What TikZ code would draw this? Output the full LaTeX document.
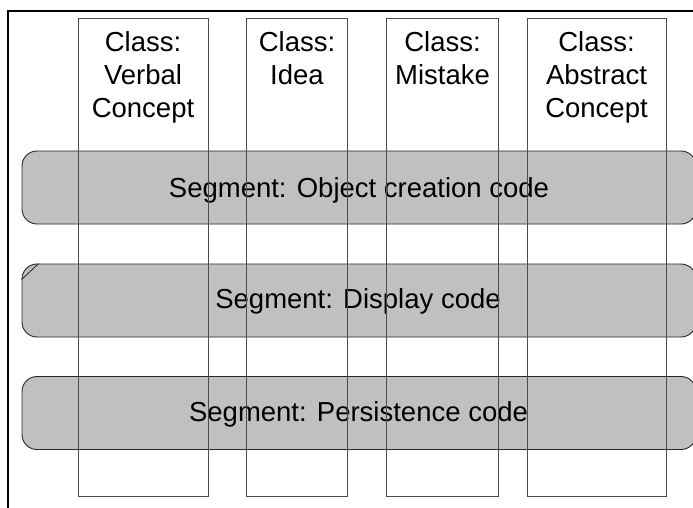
\documentclass[tikz,border=0pt]{standalone}
\usepackage{fontspec}
\setmainfont{Liberation Sans}
\definecolor{segfill}{HTML}{C0C0C0}
\begin{document}
\begin{tikzpicture}[x=1pt,y=-1pt,
  segbox/.style={draw=black!85, line width=0.9pt, fill=segfill, rounded corners=15pt, inner sep=0pt, minimum width=674pt, minimum height=73pt},
  colbox/.style={draw=black!70, line width=0.8pt, inner sep=0pt, minimum height=477.7pt},
  lbl/.style={font=\fontsize{27.5}{33}\selectfont, inner sep=0pt, align=center},
  framestyle/.style={line width=2pt, line join=miter}]
\useasboundingbox (0,0) rectangle (693,507);
\clip (0,0) rectangle (693,507);
% frame
\coordinate (fa) at (8,510);
\coordinate (fb) at (8,11);
\coordinate (fc) at (696,11);
\draw[framestyle] (fa) -- (fb) -- (fc);
% segments
\node[segbox] (s1) at (359,187.5) {};
\node[segbox] (s2) at (359,300.5) {};
\node[segbox] (s3) at (359,413) {};
\draw[draw=black!85, line width=0.8pt] ([yshift=-16pt]s2.north west) -- ([xshift=17pt]s2.north west);
\node[lbl, anchor=base] (t1) at (359,197.3) {Segment: Object creation code};
\node[lbl, anchor=base] (t2) at (358,308.3) {Segment: Display code};
\node[lbl, anchor=base] (t3) at (358.5,421.7) {Segment: Persistence code};
% columns
\node[colbox, minimum width=130pt] (c1) at (143,257.2) {};
\node[colbox, minimum width=100.6pt] (c2) at (297,257.2) {};
\node[colbox, minimum width=111.6pt] (c3) at (442.5,257.2) {};
\node[colbox, minimum width=139pt] (c4) at (596.5,257.2) {};
\node[lbl, anchor=base] (l1) at (143,117.7) {Class:\\Verbal\\Concept};
\node[lbl, anchor=base] (l2) at (297,84.7) {Class:\\Idea};
\node[lbl, anchor=base] (l3) at (442.5,84.7) {Class:\\Mistake};
\node[lbl, anchor=base] (l4) at (596.5,117.7) {Class:\\Abstract\\Concept};
\end{tikzpicture}
\end{document}
